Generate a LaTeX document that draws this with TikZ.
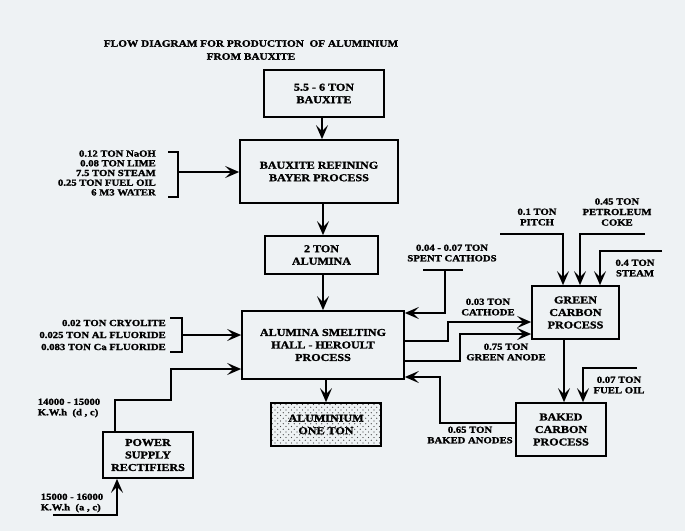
\documentclass[tikz,border=0pt]{standalone}
\usepackage{fontspec}
\setmainfont{Liberation Serif}
\newfontfamily\scanfont[FakeStretch=1.15,FakeBold=1.5]{Liberation Serif}
\usetikzlibrary{arrows.meta,patterns}
\definecolor{scanbg}{RGB}{238,242,244}
\pgfdeclarepatternformonly{sparsedots}{\pgfqpoint{-1pt}{-1pt}}{\pgfqpoint{5pt}{5pt}}{\pgfqpoint{5.5pt}{5.5pt}}{%
  \pgfpathcircle{\pgfqpoint{0pt}{0pt}}{0.65pt}%
  \pgfpathcircle{\pgfqpoint{2.75pt}{2.75pt}}{0.65pt}%
  \pgfusepath{fill}}
\tikzset{
  procbox/.style={draw,line width=1.7pt,align=center,inner sep=0pt,
    font=\scanfont\bfseries\fontsize{10.5}{12.5}\selectfont},
  lbl/.style={align=center,inner sep=0pt,font=\scanfont\bfseries\fontsize{9.3}{10.5}\selectfont},
  flow/.style={line width=1.7pt,-{Stealth[length=14pt,width=12pt,inset=6pt]}},
  pipe/.style={line width=1.7pt},
}

\begin{document}
\begin{tikzpicture}[x=1pt,y=-1pt]
\fill[scanbg] (0,0) rectangle (685,531);
\useasboundingbox (0,0) rectangle (685,531);

\node[lbl,font=\scanfont\bfseries\fontsize{9.8}{13}\selectfont] (title) at (251,50)
  {FLOW DIAGRAM FOR PRODUCTION\ \ OF ALUMINIUM\\FROM BAUXITE};

\node[procbox,minimum width=120pt,minimum height=47pt] (bauxite) at (324,93.5) {5.5 - 6 TON\\BAUXITE};
\node[procbox,minimum width=158pt,minimum height=63pt] (refining) at (319,171.5) {BAUXITE REFINING\\BAYER PROCESS};
\node[procbox,minimum width=113pt,minimum height=38pt] (alumina) at (321.5,255) {2 TON\\ALUMINA};
\node[procbox,minimum width=162pt,minimum height=68pt] (smelt) at (323,345) {ALUMINA SMELTING\\HALL - HEROULT\\PROCESS};
\node[procbox,minimum width=110pt,minimum height=43pt,pattern=sparsedots,pattern color=black!75] (alu) at (326,424.5) {ALUMINIUM\\ONE TON};
\node[procbox,minimum width=90pt,minimum height=46pt] (power) at (148,455) {POWER\\SUPPLY\\RECTIFIERS};
\node[procbox,minimum width=87pt,minimum height=53pt] (green) at (575.5,312.5) {GREEN\\CARBON\\PROCESS};
\node[procbox,minimum width=90pt,minimum height=53pt] (baked) at (561,429.5) {BAKED\\CARBON\\PROCESS};

\node[lbl,align=right,anchor=east,font=\scanfont\bfseries\fontsize{9.3}{9.7}\selectfont] (chem) at (156,173)
  {0.12 TON NaOH\\0.08 TON LIME\\7.5 TON STEAM\\0.25 TON FUEL OIL\\6 M3 WATER};
\node[lbl,align=right,anchor=east,font=\scanfont\bfseries\fontsize{9.3}{12}\selectfont] (flux) at (166,335)
  {0.02 TON CRYOLITE\\0.025 TON AL FLUORIDE\\0.083 TON Ca FLUORIDE};
\node[lbl,align=left] (kwdc) at (69,408) {14000 - 15000\\K.W.h\ \ (d , c)};
\node[lbl,align=left] (kwac) at (72,503) {15000 - 16000\\K.W.h\ \ (a , c)};
\node[lbl] (pitch) at (537,217) {0.1 TON\\PITCH};
\node[lbl] (coke) at (617,212) {0.45 TON\\PETROLEUM\\COKE};
\node[lbl] (steam) at (635,268) {0.4 TON\\STEAM};
\node[lbl] (spent) at (452,253) {0.04 - 0.07 TON\\SPENT CATHODS};
\node[lbl] (cathode) at (488,307) {0.03 TON\\CATHODE};
\node[lbl] (ganode) at (506,352) {0.75 TON\\GREEN ANODE};
\node[lbl] (fuel) at (619,385) {0.07 TON\\FUEL OIL};
\node[lbl] (banode) at (470,435) {0.65 TON\\BAKED ANODES};

\coordinate (b1) at (168,152);
\coordinate (b2) at (178,152);
\coordinate (b3) at (178,197);
\coordinate (b4) at (168,197);
\coordinate (bm) at (178,172);
\coordinate (f1) at (170,318);
\coordinate (f2) at (182,318);
\coordinate (f3) at (182,352);
\coordinate (f4) at (170,352);
\coordinate (fm) at (182,335);
\coordinate (p1) at (115,400);
\coordinate (p2) at (171,400);
\coordinate (p3) at (171,369);
\coordinate (p4) at (53,515);
\coordinate (p5) at (117,515);
\coordinate (s1) at (423,270);
\coordinate (s2) at (463,270);
\coordinate (s3) at (445,270);
\coordinate (c1) at (448,341);
\coordinate (c2) at (448,322);
\coordinate (g1) at (460,361);
\coordinate (g2) at (460,334);
\coordinate (k1) at (440,423);
\coordinate (k2) at (440,377);
\coordinate (t1) at (500,234);
\coordinate (t2) at (563,234);
\coordinate (u1) at (645,234);
\coordinate (u2) at (580,234);
\coordinate (v1) at (662,251);
\coordinate (v2) at (600,251);
\coordinate (o1) at (637,368);
\coordinate (o2) at (583,368);

\draw[flow] (bauxite.south -| 322,0) -- (refining.north -| 322,0);
\draw[flow] (refining.south -| 323,0) -- (alumina.north -| 323,0);
\draw[flow] (alumina.south -| 323,0) -- (smelt.north -| 323,0);
\draw[flow] (smelt.south -| 326,0) -- (alu.north -| 326,0);

\draw[pipe] (b1) -- (b2) -- (b3) -- (b4);
\draw[flow] (bm) -- (bm -| refining.west);
\draw[pipe] (f1) -- (f2) -- (f3) -- (f4);
\draw[flow] (fm) -- (fm -| smelt.west);

\draw[flow] (power.north -| 115,0) -- (p1) -- (p2) -- (p3) -- (p3 -| smelt.west);
\draw[flow] (p4) -- (p5) -- (power.south -| p5);

\draw[pipe] (s1) -- (s2);
\draw[flow] (s3) |- (smelt.north east |- 0,313);
\draw[flow] (smelt.east |- c1) -- (c1) -- (c2) -- (c2 -| green.west);
\draw[flow] (smelt.east |- g1) -- (g1) -- (g2) -- (g2 -| green.west);
\draw[flow] (baked.west |- k1) -- (k1) -- (k2) -- (k2 -| smelt.east);

\draw[flow] (t1) -- (t2) -- (t2 |- green.north);
\draw[flow] (u1) -- (u2) -- (u2 |- green.north);
\draw[flow] (v1) -- (v2) -- (v2 |- green.north);
\draw[flow] (green.south -| 564,0) -- (baked.north -| 564,0);
\draw[flow] (o1) -- (o2) -- (o2 |- baked.north);
\end{tikzpicture}
\end{document}
